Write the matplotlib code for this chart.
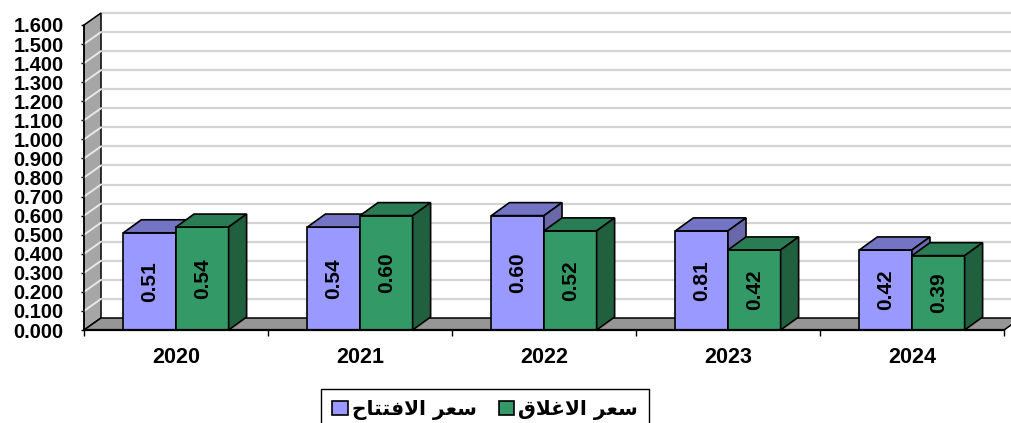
import matplotlib
matplotlib.use("Agg")
import matplotlib.pyplot as plt
from matplotlib.patches import Polygon, Patch

# ---------------- data ----------------
years = ["2020", "2021", "2022", "2023", "2024"]
open_heights = [0.51, 0.54, 0.60, 0.52, 0.42]
close_heights = [0.54, 0.60, 0.52, 0.42, 0.39]
open_labels = ["0.51", "0.54", "0.60", "0.81", "0.42"]
close_labels = ["0.54", "0.60", "0.52", "0.42", "0.39"]
series_names = ["سعر الافتتاح", "سعر الاغلاق"]
y_ticks = [i / 10 for i in range(17)]

# ---------------- simple Arabic shaping (presentation forms) ----------------
FORMS = {'س': 0xFEB1, 'ع': 0xFEC9, 'ر': 0xFEAD, 'ا': 0xFE8D, 'ل': 0xFEDD,
         'ف': 0xFED1, 'ت': 0xFE95, 'ح': 0xFEA1, 'غ': 0xFECD, 'ق': 0xFED5}
DUAL = set('بتثجحخسشصضطظعغفقكلمنهي')
RIGHT = set('اأإآدذرزوؤة')


def shape(s):
    ch = list(s)
    n = len(ch)
    res = []
    i = 0
    while i < n:
        c = ch[i]
        prev = ch[i - 1] if i > 0 else None
        jp = prev in DUAL
        if c == 'ل' and i + 1 < n and ch[i + 1] == 'ا':
            res.append('\uFEFC' if jp else '\uFEFB')
            i += 2
            continue
        nxt = ch[i + 1] if i + 1 < n else None
        jn = (c in DUAL) and nxt is not None and (nxt in DUAL or nxt in RIGHT)
        if c in FORMS:
            base = FORMS[c]
            if c in RIGHT:
                idx = 1 if jp else 0
            else:
                idx = 3 if (jp and jn) else 1 if jp else 2 if jn else 0
            res.append(chr(base + idx))
        else:
            res.append(c)
        i += 1
    return ''.join(reversed(res))


# ---------------- figure ----------------
W, H, DPI = 1012, 423, 100
fig = plt.figure(figsize=(W / DPI, H / DPI), dpi=DPI)
L, B, AW, AH = 84, 93, 920, 305
ax = fig.add_axes([L / W, B / H, AW / W, AH / H])
n = len(years)
x0, x1 = -0.5, n - 0.5
ymax = 1.6
ax.set_xlim(x0, x1)
ax.set_ylim(0, ymax)

px_x = AW / (x1 - x0)
px_y = AH / ymax
wdx, wdy = 17 / px_x, 12 / px_y      # wall depth
bdx, bdy = 18 / px_x, 13 / px_y      # bar depth

# back-wall gridlines
for v in y_ticks[1:]:
    ax.plot([x0 + wdx, x1 + wdx], [v + wdy, v + wdy], color='#d4d4d4', lw=1.6,
            clip_on=False, zorder=1, solid_capstyle='butt')

# side wall
side = Polygon([(x0, 0), (x0 + wdx, wdy), (x0 + wdx, ymax + wdy), (x0, ymax)],
               closed=True, facecolor='#a6a6a6', edgecolor='black', lw=1.1,
               clip_on=False, zorder=2)
ax.add_patch(side)
for v in y_ticks[1:-1]:
    ax.plot([x0, x0 + wdx], [v, v + wdy], color='#e8e8e8', lw=1.4,
            clip_on=False, zorder=2.1)

# floor
floor = Polygon([(x0, 0), (x1, 0), (x1 + wdx, wdy), (x0 + wdx, wdy)],
                closed=True, facecolor='#969696', edgecolor='black', lw=1.1,
                clip_on=False, zorder=2.2)
ax.add_patch(floor)

# bars
w = 0.286
styles = [
    dict(front='#9999ff', top='#7474c4', side='#6868aa'),
    dict(front='#339966', top='#2a7c54', side='#21603f'),
]
z = 3
for i in range(n):
    for s, (hts, labs, off) in enumerate([(open_heights, open_labels, -w),
                                          (close_heights, close_labels, 0.0)]):
        st = styles[s]
        h = hts[i]
        xl = i + off
        xr = xl + w
        ax.bar(xl, h, width=w, align='edge', color=st['front'],
               edgecolor='black', lw=1.2, zorder=z)
        top = Polygon([(xl, h), (xr, h), (xr + bdx, h + bdy), (xl + bdx, h + bdy)],
                      closed=True, facecolor=st['top'], edgecolor='black', lw=1.2,
                      zorder=z + 0.1)
        sd = Polygon([(xr, 0), (xr + bdx, bdy), (xr + bdx, h + bdy), (xr, h)],
                     closed=True, facecolor=st['side'], edgecolor='black', lw=1.2,
                     zorder=z + 0.1)
        ax.add_patch(top)
        ax.add_patch(sd)
        ax.text(xl + w / 2, h / 2, labs[i], rotation=90, ha='center', va='center',
                fontsize=15, fontweight='bold', family='Liberation Sans',
                color='black', zorder=z + 0.5)
        z += 1

# axes styling
for sp in ['top', 'right']:
    ax.spines[sp].set_visible(False)
ax.spines['left'].set_linewidth(1.1)
ax.spines['left'].set_zorder(50)
ax.spines['bottom'].set_linewidth(1.6)
ax.spines['bottom'].set_zorder(50)
ax.set_yticks(y_ticks)
ax.set_yticklabels([f"{v:.3f}" for v in y_ticks])
ax.tick_params(axis='y', direction='out', length=2.5, width=1, pad=12,
               labelsize=14.5)
ax.set_xticks([x0 + k for k in range(n + 1)])
ax.set_xticklabels([])
ax.set_xticks(list(range(n)), minor=True)
ax.set_xticklabels(years, minor=True)
ax.tick_params(axis='x', which='major', direction='out', length=4, width=1)
ax.tick_params(axis='x', which='minor', length=0, pad=12, labelsize=15.5)
for lab in ax.get_yticklabels() + ax.get_xticklabels(minor=True):
    lab.set_fontweight('bold')
    lab.set_family('Liberation Sans')

# legend
handles = [Patch(facecolor=styles[0]['front'], edgecolor='black', lw=1.2),
           Patch(facecolor=styles[1]['front'], edgecolor='black', lw=1.2)]
leg = fig.legend(handles, [shape(t) for t in series_names], loc='center',
                 bbox_to_anchor=(485 / W, 1 - 410 / H), ncol=2, frameon=True,
                 fancybox=False, edgecolor='black', framealpha=1,
                 prop=dict(family='DejaVu Sans', weight='bold', size=14.5),
                 handlelength=0.75, handleheight=0.75, handletextpad=0.2,
                 columnspacing=1.1, borderpad=0.55)
leg.get_frame().set_linewidth(1.0)

fig.savefig("out.png", dpi=DPI)
